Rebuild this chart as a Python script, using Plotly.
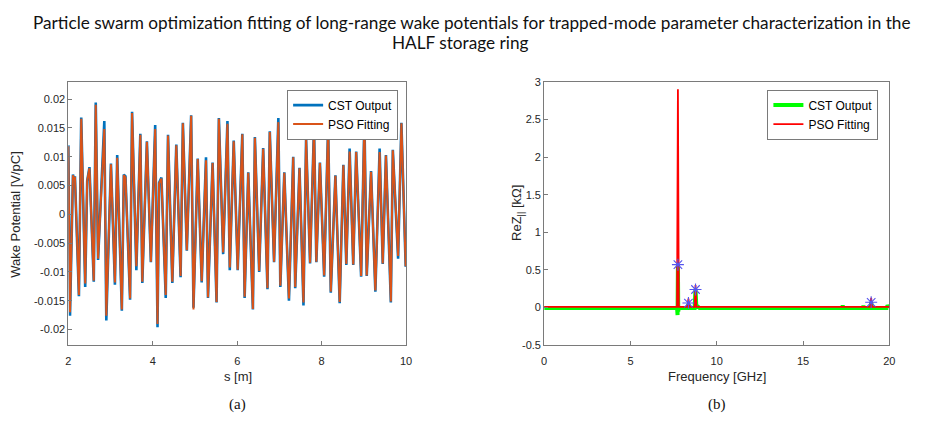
import plotly.graph_objects as go

# ---------------- data: left panel (wake potential) ----------------
s_m = [2.000, 2.039, 2.109, 2.133, 2.156, 2.250, 2.305, 2.399, 2.446, 2.500,
       2.602, 2.649, 2.704, 2.852, 2.899, 3.009, 3.103, 3.157, 3.267, 3.314,
       3.353, 3.462, 3.509, 3.611, 3.705, 3.752, 3.861, 3.955, 4.057, 4.112,
       4.150, 4.205, 4.307, 4.361, 4.463, 4.557, 4.659, 4.713, 4.807, 4.909,
       4.964, 5.065, 5.159, 5.261, 5.308, 5.417, 5.511, 5.566, 5.667, 5.769,
       5.824, 5.918, 6.012, 6.121, 6.176, 6.262, 6.372, 6.419, 6.521, 6.615,
       6.717, 6.772, 6.873, 6.975, 7.022, 7.116, 7.226, 7.327, 7.374, 7.476,
       7.570, 7.632, 7.726, 7.820, 7.875, 7.960, 8.060, 8.155, 8.217, 8.327,
       8.428, 8.515, 8.585, 8.663, 8.749, 8.819, 8.936, 9.014, 9.069, 9.171,
       9.273, 9.374, 9.448, 9.524, 9.640, 9.687, 9.812, 9.890, 9.992]

wake_cst = [0.0120, -0.0176, 0.0069, 0.0060, 0.0066, -0.0142, 0.0168, -0.0126, 0.0058, 0.0082,
            -0.0117, 0.0194, -0.0079, 0.0162, -0.0184, 0.0088, -0.0122, 0.0103, -0.0167, 0.0069,
            0.0066, -0.0148, 0.0178, -0.0097, 0.0140, -0.0119, 0.0127, -0.0083, 0.0155, -0.0196,
            0.0055, 0.0064, -0.0145, 0.0138, -0.0119, 0.0121, -0.0109, 0.0159, -0.0063, 0.0172,
            -0.0162, 0.0097, -0.0118, 0.0099, -0.0145, 0.0090, -0.0153, 0.0167, -0.0069, 0.0162,
            -0.0097, 0.0128, -0.0097, 0.0140, -0.0145, 0.0073, -0.0165, 0.0134, -0.0100, 0.0115,
            -0.0130, 0.0144, -0.0083, 0.0167, -0.0126, 0.0073, -0.0150, 0.0100, -0.0128, 0.0081,
            -0.0158, 0.0131, -0.0085, 0.0152, -0.0083, 0.0090, -0.0108, 0.0154, -0.0136, 0.0068,
            -0.0154, 0.0086, -0.0088, 0.0114, -0.0088, 0.0109, -0.0108, 0.0165, -0.0107, 0.0075,
            -0.0134, 0.0114, -0.0086, 0.0103, -0.0153, 0.0112, -0.0077, 0.0159, -0.0091]

wake_pso = [0.0118, -0.0170, 0.0068, 0.0060, 0.0065, -0.0140, 0.0166, -0.0120, 0.0058, 0.0080,
            -0.0115, 0.0190, -0.0077, 0.0148, -0.0176, 0.0087, -0.0118, 0.0098, -0.0165, 0.0068,
            0.0064, -0.0146, 0.0176, -0.0090, 0.0138, -0.0117, 0.0126, -0.0082, 0.0148, -0.0190,
            0.0054, 0.0062, -0.0140, 0.0137, -0.0117, 0.0120, -0.0107, 0.0158, -0.0062, 0.0171,
            -0.0165, 0.0096, -0.0116, 0.0094, -0.0144, 0.0089, -0.0152, 0.0166, -0.0066, 0.0157,
            -0.0092, 0.0127, -0.0096, 0.0139, -0.0143, 0.0072, -0.0164, 0.0133, -0.0098, 0.0114,
            -0.0128, 0.0143, -0.0082, 0.0160, -0.0124, 0.0072, -0.0146, 0.0099, -0.0126, 0.0080,
            -0.0153, 0.0130, -0.0084, 0.0150, -0.0082, 0.0089, -0.0106, 0.0153, -0.0134, 0.0067,
            -0.0152, 0.0085, -0.0086, 0.0109, -0.0087, 0.0108, -0.0107, 0.0164, -0.0106, 0.0074,
            -0.0132, 0.0108, -0.0085, 0.0102, -0.0151, 0.0111, -0.0072, 0.0158, -0.0090]

left_xticks = [2, 4, 6, 8, 10]
left_yticks = [0.02, 0.015, 0.01, 0.005, 0, -0.005, -0.01, -0.015, -0.02]
left_yticklabels = ["0.02", "0.015", "0.01", "0.005", "0", "-0.005", "-0.01", "-0.015", "-0.02"]

# ---------------- data: right panel (impedance) ----------------
cst_freq = [0, 7.70, 7.73, 7.75, 7.77, 7.80, 8.31, 8.36, 8.41, 8.72, 8.77, 8.82,
            8.90, 9.00, 17.25, 17.30, 17.35, 18.45, 18.50, 18.55, 18.90, 18.95,
            19.00, 19.85, 19.90, 20]
cst_rez = [-0.005, -0.005, -0.10, 0.57, -0.05, -0.005, -0.005, 0.05, -0.005, -0.005, 0.25, -0.005,
           0.015, -0.005, -0.005, 0.025, -0.005, -0.005, 0.02, -0.005, -0.005, 0.07,
           -0.005, -0.005, 0.03, -0.005]

pso_freq = [0, 7.70, 7.75, 7.80, 8.31, 8.36, 8.41, 8.72, 8.77, 8.82, 18.90, 18.95, 19.00, 20]
pso_rez = [0.01, 0.01, 2.90, 0.01, 0.01, 0.12, 0.01, 0.01, 0.30, 0.01, 0.01, 0.13, 0.01, 0.01]

mode_freq = [7.75, 8.36, 8.77, 18.95]
mode_rez = [0.57, 0.06, 0.24, 0.07]

right_xticks = [0, 5, 10, 15, 20]
right_yticks = [-0.5, 0, 0.5, 1, 1.5, 2, 2.5, 3]
right_yticklabels = ["-0.5", "0", "0.5", "1", "1.5", "2", "2.5", "3"]

# ---------------- figure ----------------
W, H = 925, 427


def px(x):
    return x / W


def py(y):
    return 1 - y / H


fig = go.Figure()

fig.add_trace(go.Scatter(x=s_m, y=wake_cst, mode="lines", name="CST Output",
                         line=dict(color="#0072BD", width=2.6),
                         xaxis="x", yaxis="y", legend="legend"))
fig.add_trace(go.Scatter(x=s_m, y=wake_pso, mode="lines", name="PSO Fitting",
                         line=dict(color="#D95319", width=2),
                         xaxis="x", yaxis="y", legend="legend"))

fig.add_trace(go.Scatter(x=cst_freq, y=cst_rez, mode="lines", name="CST Output",
                         line=dict(color="#00FF00", width=4),
                         xaxis="x2", yaxis="y2", legend="legend2"))
fig.add_trace(go.Scatter(x=pso_freq, y=pso_rez, mode="lines", name="PSO Fitting",
                         line=dict(color="#FF0000", width=1.8),
                         xaxis="x2", yaxis="y2", legend="legend2"))
fig.add_trace(go.Scatter(x=mode_freq, y=mode_rez, mode="markers", showlegend=False,
                         marker=dict(symbol="asterisk-open", size=10, color="#5555ee",
                                     line=dict(color="#5555ee", width=1.1)),
                         xaxis="x2", yaxis="y2"))

axis_common = dict(showline=True, linecolor="#7a7a7a", linewidth=1, mirror=True,
                   ticks="inside", ticklen=4, tickcolor="#7a7a7a",
                   showgrid=False, zeroline=False,
                   tickfont=dict(family="Liberation Sans, Arial", size=11, color="#262626"))

ydom = [py(349), py(78)]

fig.update_layout(
    width=W, height=H,
    margin=dict(l=0, r=0, t=0, b=0),
    paper_bgcolor="white", plot_bgcolor="white",
    xaxis=dict(domain=[px(66), px(407)], range=[2, 10], tickvals=left_xticks,
               anchor="y", ticklabelstandoff=6, **axis_common),
    yaxis=dict(domain=ydom, range=[-0.0227, 0.0230], tickvals=left_yticks,
               ticktext=left_yticklabels, anchor="x", **axis_common),
    xaxis2=dict(domain=[px(546.5), px(895)], range=[0, 20], tickvals=right_xticks,
                anchor="y2", ticklabelstandoff=6, **axis_common),
    yaxis2=dict(domain=ydom, range=[-0.5, 3], tickvals=right_yticks,
                ticktext=right_yticklabels, anchor="x2", **axis_common),
    legend=dict(x=px(399), y=py(86), xanchor="right", yanchor="top",
                bgcolor="white", bordercolor="#7a7a7a", borderwidth=1,
                font=dict(family="Liberation Sans, Arial", size=12, color="#000"),
                tracegroupgap=0, itemwidth=30),
    legend2=dict(x=px(884), y=py(86), xanchor="right", yanchor="top",
                 bgcolor="white", bordercolor="#7a7a7a", borderwidth=1,
                 font=dict(family="Liberation Sans, Arial", size=12, color="#000"),
                 tracegroupgap=0, itemwidth=30),
    showlegend=True,
)

ann = []
title_font = dict(family="Lato, Open Sans, sans-serif", size=17.2, color="#111")
ann.append(dict(text="Particle swarm optimization fitting of long-range wake potentials for trapped-mode parameter characterization in the",
                x=px(474), y=py(17), xref="paper", yref="paper", showarrow=False,
                xanchor="center", yanchor="middle", font=title_font))
ann.append(dict(text="HALF storage ring",
                x=px(462), y=py(38), xref="paper", yref="paper", showarrow=False,
                xanchor="center", yanchor="middle", font=title_font))

lab_font = dict(family="Liberation Sans, Arial", size=13, color="#262626")
ann.append(dict(text="s [m]", x=px(237), y=py(381), xref="paper", yref="paper",
                showarrow=False, xanchor="center", yanchor="middle", font=lab_font))
ann.append(dict(text="Frequency [GHz]", x=px(721), y=py(381), xref="paper", yref="paper",
                showarrow=False, xanchor="center", yanchor="middle", font=lab_font))
ann.append(dict(text="Wake Potential [V/pC]", x=px(13), y=py(214), xref="paper", yref="paper",
                showarrow=False, xanchor="center", yanchor="middle", textangle=-90, font=lab_font))
ann.append(dict(text="ReZ<sub>||</sub> [kΩ]", x=px(519), y=py(213), xref="paper", yref="paper",
                showarrow=False, xanchor="center", yanchor="middle", textangle=-90, font=lab_font))

cap_font = dict(family="Liberation Serif, Times New Roman", size=15, color="#111")
ann.append(dict(text="(a)", x=px(237), y=py(410), xref="paper", yref="paper",
                showarrow=False, xanchor="center", yanchor="middle", font=cap_font))
ann.append(dict(text="(b)", x=px(721), y=py(410), xref="paper", yref="paper",
                showarrow=False, xanchor="center", yanchor="middle", font=cap_font))

fig.update_layout(annotations=ann)

fig.write_html("out.html")
